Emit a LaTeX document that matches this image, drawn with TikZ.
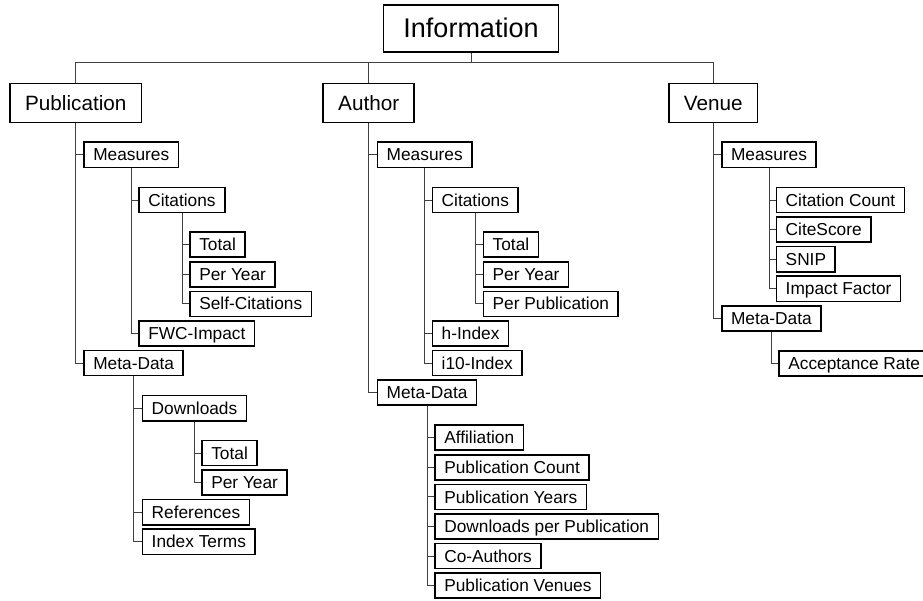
\documentclass[tikz,border=0pt]{standalone}
\usepackage{fontspec}
\setmainfont{Liberation Sans}
\begin{document}
\begin{tikzpicture}[x=1pt, y=-1pt,
    box/.style={draw, line width=1.6pt, rectangle, inner ysep=0pt},
    root/.style={box, font=\fontsize{27}{30}\selectfont, inner xsep=20pt, minimum height=47.4pt, text height=19.5pt, text depth=0.5pt},
    head/.style={box, font=\fontsize{20.7}{24}\selectfont, inner xsep=15pt, minimum height=39pt, text height=15pt, text depth=0.5pt},
    leaf/.style={box, anchor=west, font=\fontsize{17.3}{20}\selectfont, inner xsep=9.2pt, minimum height=25.1pt, text height=12.6pt, text depth=0.4pt},
    link/.style={draw=black!75, line width=0.9pt}]

    \useasboundingbox (0,0) rectangle (923,601);

    % top levels
    \node[root] (info) at (471,28.5) {Information};
    \node[head] (pub) at (75.8,103) {Publication};
    \node[head] (aut) at (368.7,103) {Author};
    \node[head] (ven) at (713.3,103) {Venue};

    % publication
    \node[leaf] (pm) at (83.3,154.8) {Measures};
    \node[leaf] (pmc) at (138.3,200) {Citations};
    \node[leaf] (pmct) at (189.3,244.7) {Total};
    \node[leaf] (pmcy) at (189.3,274.3) {Per Year};
    \node[leaf] (pmcs) at (189.3,303.9) {Self-Citations};
    \node[leaf] (pmf) at (138.3,333.5) {FWC-Impact};
    \node[leaf] (pd) at (83.3,363.1) {Meta-Data};
    \node[leaf] (pdd) at (141.7,408.2) {Downloads};
    \node[leaf] (pddt) at (201.3,453) {Total};
    \node[leaf] (pddy) at (201.3,482.6) {Per Year};
    \node[leaf] (pdr) at (141.7,512.2) {References};
    \node[leaf] (pdi) at (141.7,541.8) {Index Terms};

    % author
    \node[leaf] (am) at (376.7,154.8) {Measures};
    \node[leaf] (amc) at (431.7,200) {Citations};
    \node[leaf] (amct) at (482.7,244.7) {Total};
    \node[leaf] (amcy) at (482.7,274.3) {Per Year};
    \node[leaf] (amcp) at (482.7,303.9) {Per Publication};
    \node[leaf] (amh) at (431.7,333.5) {h-Index};
    \node[leaf] (ami) at (431.7,363.1) {i10-Index};
    \node[leaf] (ad) at (376.7,392.7) {Meta-Data};
    \node[leaf] (ada) at (434.3,437.7) {Affiliation};
    \node[leaf] (adc) at (434.3,467.3) {Publication Count};
    \node[leaf] (ady) at (434.3,496.9) {Publication Years};
    \node[leaf] (add) at (434.3,526.5) {Downloads per Publication};
    \node[leaf] (adk) at (434.3,556.1) {Co-Authors};
    \node[leaf] (adv) at (434.3,585.7) {Publication Venues};

    % venue
    \node[leaf] (vm) at (721,154.8) {Measures};
    \node[leaf] (vmc) at (775.7,200) {Citation Count};
    \node[leaf] (vms) at (775.7,229.6) {CiteScore};
    \node[leaf] (vmn) at (775.7,259.2) {SNIP};
    \node[leaf] (vmi) at (775.7,288.8) {Impact Factor};
    \node[leaf] (vd) at (721,318.4) {Meta-Data};
    \node[leaf] (vda) at (778.3,363.4) {Acceptance Rate};

    % links
    \draw[link] (info.south) -- ++(0,9) coordinate (bus);
    \foreach \h in {pub, aut, ven} {
        \draw[link] (bus) -| (\h.north);
    }
    \foreach \p/\c in {pub/pm, pub/pd, pm/pmc, pm/pmf, pmc/pmct, pmc/pmcy, pmc/pmcs,
        pd/pdd, pd/pdr, pd/pdi, pdd/pddt, pdd/pddy,
        aut/am, aut/ad, am/amc, am/amh, am/ami, amc/amct, amc/amcy, amc/amcp,
        ad/ada, ad/adc, ad/ady, ad/add, ad/adk, ad/adv,
        ven/vm, ven/vd, vm/vmc, vm/vms, vm/vmn, vm/vmi, vd/vda} {
        \draw[link] (\p.south) |- (\c.west);
    }
\end{tikzpicture}
\end{document}
